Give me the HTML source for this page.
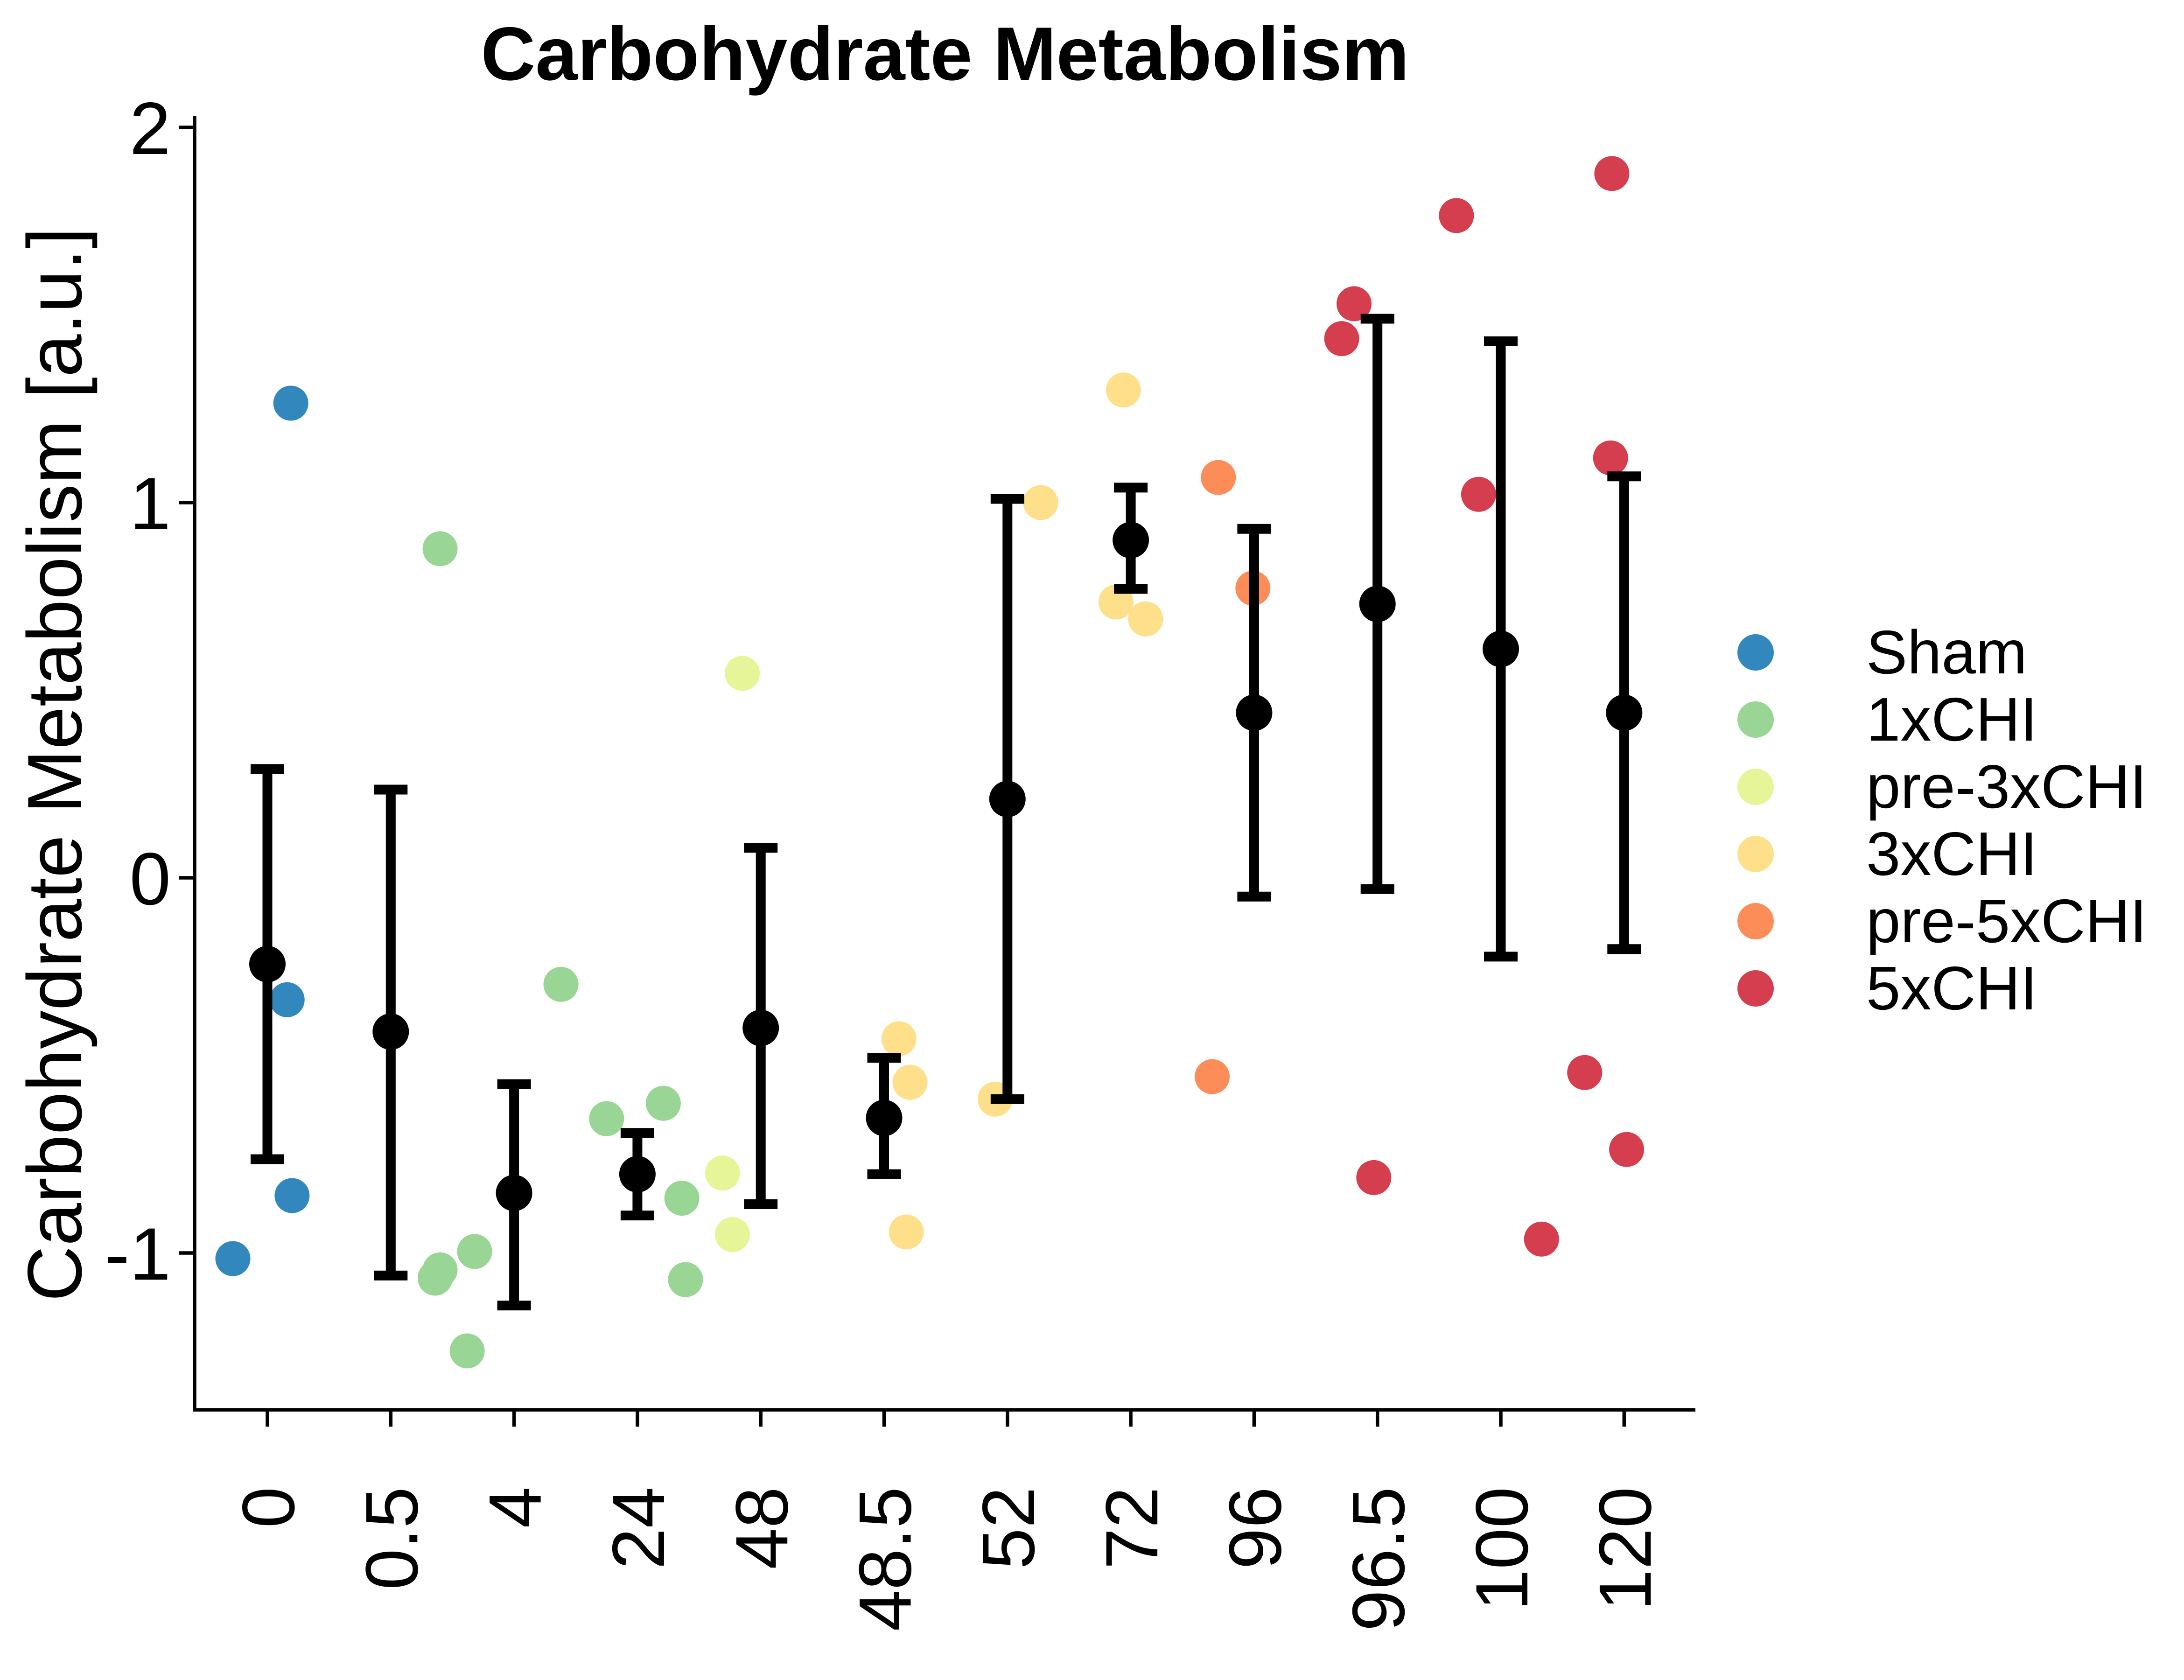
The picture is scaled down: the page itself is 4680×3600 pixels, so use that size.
<!DOCTYPE html>
<html><head><meta charset="utf-8"><style>html,body{margin:0;padding:0;background:#fff}svg{display:block}</style></head>
<body>
<svg id="chart" width="4680" height="3600" viewBox="0 0 1560 1200" xmlns="http://www.w3.org/2000/svg" font-family="Liberation Sans, Arial, sans-serif">
<rect width="1560" height="1200" fill="#fff"/>
<text x="675" y="57" font-size="54" font-weight="bold" text-anchor="middle">Carbohydrate Metabolism</text>
<text transform="translate(58,546) rotate(-90)" font-size="55" text-anchor="middle">Carbohydrate Metabolism [a.u.]</text>
<g id="axes"></g><g id="marks"></g><g id="legend"></g>
</svg>
<script>
const categories=["0","0.5","4","24","48","48.5","52","72","96","96.5","100","120"];
const means=[-0.23,-0.41,-0.84,-0.79,-0.40,-0.64,0.21,0.90,0.44,0.73,0.61,0.44];
const upper=[0.29,0.235,-0.55,-0.68,0.08,-0.48,1.01,1.04,0.93,1.49,1.43,1.07];
const lower=[-0.75,-1.06,-1.14,-0.90,-0.87,-0.79,-0.59,0.77,-0.05,-0.03,-0.21,-0.19];
const yTicks=[-1,0,1,2];
const groups=["Sham","1xCHI","pre-3xCHI","3xCHI","pre-5xCHI","5xCHI"];
const colors=["#3288bd","#99d594","#e6f598","#fee08b","#fc8d59","#d53e4f"];
const shamX=[0.19,0.16,0.20,-0.28], shamY=[1.265,-0.325,-0.847,-1.015];
const chi1X=[1.40,2.38,1.40,1.36,1.68,1.62,2.75,3.21,3.36,3.39], chi1Y=[0.877,-0.284,-1.045,-1.067,-0.996,-1.261,-0.642,-0.601,-0.854,-1.071];
const pre3X=[3.85,3.69,3.77], pre3Y=[0.545,-0.787,-0.951];
const chi3X=[5.12,5.21,5.18,5.90,6.27,6.94,6.88,7.12], chi3Y=[-0.429,-0.545,-0.944,-0.590,1.0,1.30,0.735,0.690];
const pre5X=[7.71,7.99,7.66], pre5Y=[1.067,0.772,-0.53];
const chi5X=[8.81,8.71,8.97,9.64,9.82,10.33,10.90,10.89,10.68,11.02], chi5Y=[1.53,1.437,-0.799,1.765,1.022,-0.963,1.877,1.119,-0.519,-0.724];
const ptsX=[shamX,chi1X,pre3X,chi3X,pre5X,chi5X], ptsY=[shamY,chi1Y,pre3Y,chi3Y,pre5Y,chi5Y];

const NS="http://www.w3.org/2000/svg";
const xS=i=>191+i*88.1, yS=v=>627-268*v;
function mk(t,a,p){const e=document.createElementNS(NS,t);for(const k in a)e.setAttribute(k,a[k]);p.appendChild(e);return e;}
const ax=document.getElementById('axes'),mg=document.getElementById('marks'),lg=document.getElementById('legend');
let l=mk('line',{x1:139,y1:83,x2:139,y2:1008,stroke:'#000','stroke-width':2.5},ax);


l=mk('line',{x1:138,y1:1007,x2:1211,y2:1007,stroke:'#000','stroke-width':2.5},ax);


yTicks.forEach(v=>{
  const t=mk('line',{x1:128,x2:139,y1:yS(v),y2:yS(v),stroke:'#000','stroke-width':2.5},ax);
  
  
  const tx=mk('text',{x:122,y:yS(v)+19,'font-size':53,'text-anchor':'end'},ax);tx.textContent=v;
  
  
});
categories.forEach((c,i)=>{
  const t=mk('line',{x1:xS(i),x2:xS(i),y1:1007,y2:1019,stroke:'#000','stroke-width':2.5},ax);
  
  
  const tx=mk('text',{transform:`translate(${xS(i)+19},1062) rotate(-90)`,'font-size':53,'text-anchor':'end'},ax);tx.textContent=c;
  
  
});
ptsX.forEach((xs,g)=>xs.forEach((x,j)=>{
  const c=mk('circle',{cx:xS(x),cy:yS(ptsY[g][j]),r:12.5,fill:colors[g]},mg);
  
  
}));
categories.forEach((c,i)=>{
  const x=xS(i),g=mk('g',{stroke:'#000','stroke-width':7},mg);
  
  
  mk('line',{x1:x,x2:x,y1:yS(upper[i]),y2:yS(lower[i])},g);
  mk('line',{x1:x-12,x2:x+12,y1:yS(upper[i]),y2:yS(upper[i])},g);
  mk('line',{x1:x-12,x2:x+12,y1:yS(lower[i]),y2:yS(lower[i])},g);
  const m=mk('circle',{cx:x,cy:yS(means[i]),r:13,fill:'#000'},mg);
  
  
});
groups.forEach((n,i)=>{
  const y=466+i*48;
  const c=mk('circle',{cx:1254,cy:y,r:13,fill:colors[i]},lg);
  
  
  const t=mk('text',{x:1333,y:y+15,'font-size':44},lg);t.textContent=n;
  
  
});
</script>
</body></html>
